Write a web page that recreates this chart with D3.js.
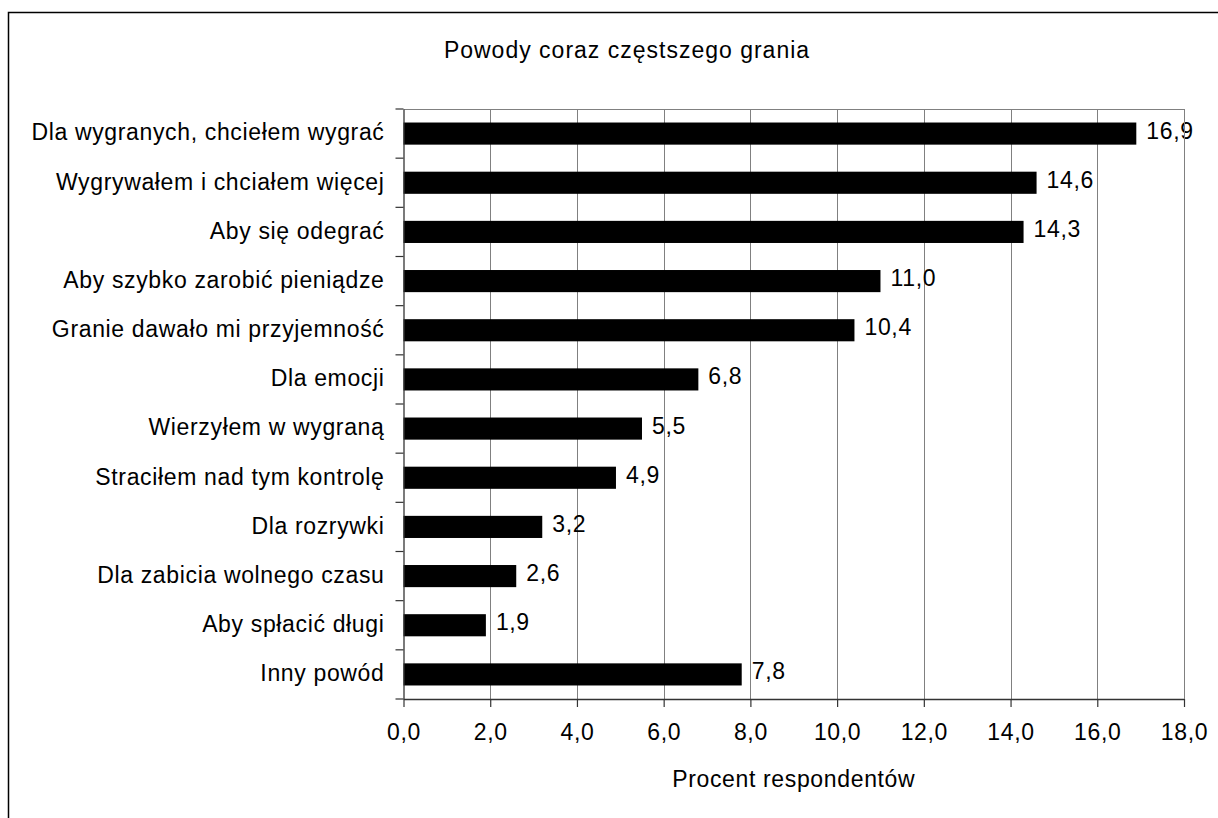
<!DOCTYPE html>
<html>
<head>
<meta charset="utf-8">
<script src="https://cdn.jsdelivr.net/npm/d3@7"></script>
<style>
  html, body { margin: 0; padding: 0; background: #fff; }
  svg { display: block; }
  text { font-family: "Liberation Sans", Arial, sans-serif; fill: #000; }
</style>
</head>
<body>
<svg id="chart" width="1218" height="818"></svg>
<script>
// Reasons for gambling more and more often (% of respondents)
const categories = [
  "Dla wygranych, chciełem wygrać",
  "Wygrywałem i chciałem więcej",
  "Aby się odegrać",
  "Aby szybko zarobić pieniądze",
  "Granie dawało mi przyjemność",
  "Dla emocji",
  "Wierzyłem w wygraną",
  "Straciłem nad tym kontrolę",
  "Dla rozrywki",
  "Dla zabicia wolnego czasu",
  "Aby spłacić długi",
  "Inny powód"
];
const values = [16.9, 14.6, 14.3, 11.0, 10.4, 6.8, 5.5, 4.9, 3.2, 2.6, 1.9, 7.8];
const xTicks = [0, 2, 4, 6, 8, 10, 12, 14, 16, 18];
const chartTitle = "Powody coraz częstszego grania";
const xTitle = "Procent respondentów";

const fmt = v => v.toFixed(1).replace(".", ",");

const svg = d3.select("#chart");
const plot = { left: 403.5, right: 1184, top: 109, bottom: 699 };
const fontSize = 23;
const spacing = "0.65px";

// outer chart frame (extends past the window on the right and bottom)
svg.append("rect")
  .attr("x", 8.5).attr("y", 12.5)
  .attr("width", 1260).attr("height", 840)
  .attr("fill", "none").attr("stroke", "#000").attr("stroke-width", 1.5);

const x = d3.scaleLinear().domain([0, 18]).range([plot.left, plot.right]);
const y = d3.scaleBand().domain(categories).range([plot.top, plot.bottom]).paddingInner(0.55).paddingOuter(0.275);
const yb = d3.scaleBand().domain(categories).range([plot.top, plot.bottom]);

// vertical gridlines
svg.append("g").selectAll("line")
  .data(xTicks.filter(t => t > 0))
  .join("line")
  .attr("x1", d => Math.round(x(d)) + 0.5).attr("x2", d => Math.round(x(d)) + 0.5)
  .attr("y1", plot.top).attr("y2", plot.bottom)
  .attr("stroke", "#808080").attr("stroke-width", 1);

// top border of the plot area
svg.append("line")
  .attr("x1", plot.left).attr("x2", plot.right)
  .attr("y1", plot.top + 0.5).attr("y2", plot.top + 0.5)
  .attr("stroke", "#808080").attr("stroke-width", 1);

// bars
svg.append("g").selectAll("rect")
  .data(values)
  .join("rect")
  .attr("x", x(0))
  .attr("y", (d, i) => y(categories[i]))
  .attr("width", d => x(d) - x(0))
  .attr("height", y.bandwidth())
  .attr("fill", "#000");

// value labels
svg.append("g").selectAll("text")
  .data(values)
  .join("text")
  .attr("x", d => x(d) + 10)
  .attr("y", (d, i) => y(categories[i]) + y.bandwidth() / 2 + 5)
  .attr("font-size", fontSize)
  .attr("letter-spacing", spacing)
  .text(d => fmt(d));

// x axis
const xAxis = svg.append("g")
  .attr("transform", `translate(0,${plot.bottom})`)
  .call(d3.axisBottom(x).tickValues(xTicks).tickFormat(fmt).tickSize(8).tickSizeOuter(0).tickPadding(17));
xAxis.select(".domain").attr("stroke", "#333").attr("stroke-width", 1.3);
xAxis.selectAll(".tick line").attr("stroke", "#333").attr("stroke-width", 1.2);
xAxis.selectAll(".tick text")
  .attr("font-size", fontSize)
  .attr("font-family", "'Liberation Sans', Arial, sans-serif")
  .attr("letter-spacing", spacing)
  .attr("fill", "#000");

// y axis with ticks between categories
const yAxis = svg.append("g")
  .attr("transform", `translate(${plot.left},0)`)
  .call(d3.axisLeft(yb).tickSize(0).tickPadding(19));
yAxis.select(".domain").attr("stroke", "#333").attr("stroke-width", 1.3);
yAxis.selectAll(".tick text")
  .attr("font-size", fontSize)
  .attr("font-family", "'Liberation Sans', Arial, sans-serif")
  .attr("letter-spacing", spacing)
  .attr("fill", "#000")
  .attr("dy", "0.3em");
yAxis.append("g").selectAll("line")
  .data(d3.range(categories.length + 1))
  .join("line")
  .attr("x1", -8).attr("x2", 0)
  .attr("y1", i => plot.top + i * yb.step())
  .attr("y2", i => plot.top + i * yb.step())
  .attr("stroke", "#333").attr("stroke-width", 1.2);

// right border of the plot area
svg.append("line")
  .attr("x1", Math.round(plot.right) + 0.5).attr("x2", Math.round(plot.right) + 0.5)
  .attr("y1", plot.top).attr("y2", plot.bottom)
  .attr("stroke", "#808080").attr("stroke-width", 1);

// titles
svg.append("text")
  .attr("x", 627).attr("y", 58)
  .attr("text-anchor", "middle")
  .attr("font-size", fontSize)
  .attr("letter-spacing", "1px")
  .text(chartTitle);

svg.append("text")
  .attr("x", (plot.left + plot.right) / 2).attr("y", 787)
  .attr("text-anchor", "middle")
  .attr("font-size", fontSize)
  .attr("letter-spacing", spacing)
  .text(xTitle);
</script>
</body>
</html>
